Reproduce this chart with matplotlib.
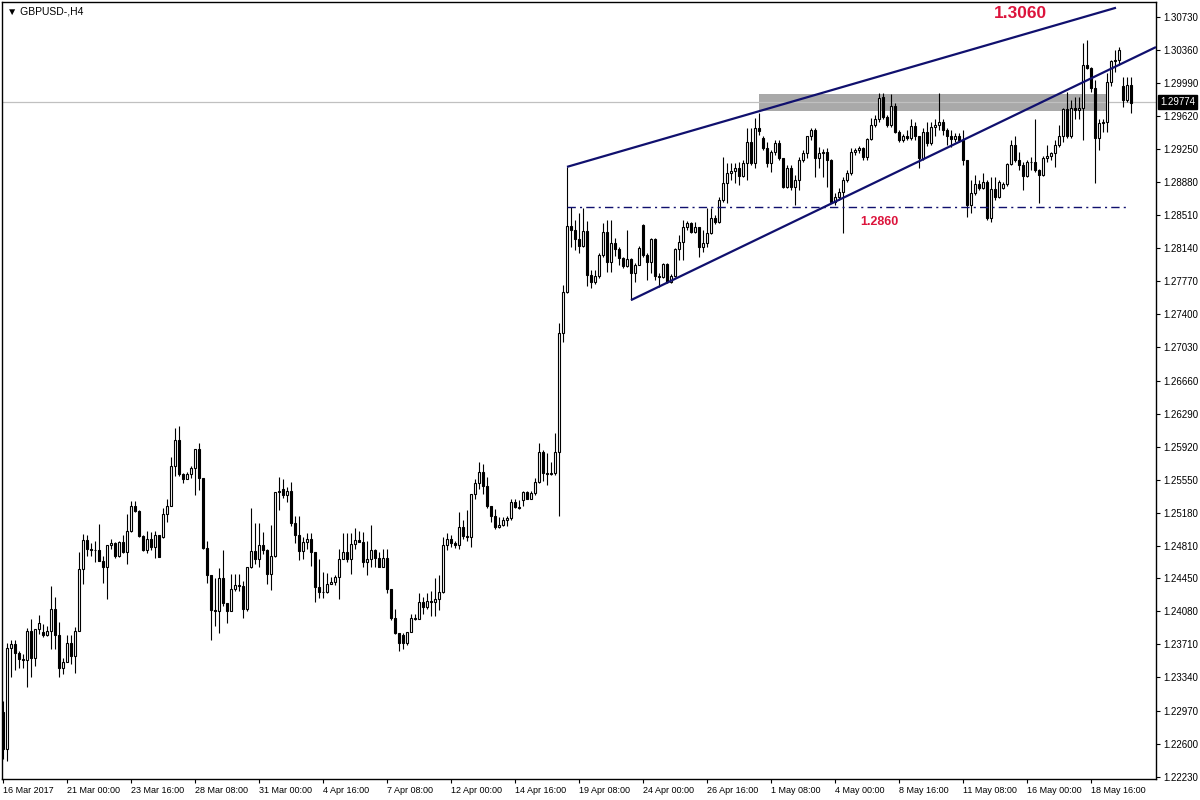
import numpy as np
import matplotlib.pyplot as plt
import matplotlib.transforms as mtransforms
from matplotlib.patches import Rectangle

plt.rcParams['font.family'] = ['Liberation Sans', 'DejaVu Sans']

# GBPUSD H4 candles, 16 Mar - 22 May 2017
opens = [
    1.2295, 1.2254, 1.2367, 1.2371, 1.2361, 1.2355, 1.2354, 1.2386, 1.2356, 1.2388,
    1.2385, 1.2381, 1.2386, 1.2410, 1.2382, 1.2345, 1.2351, 1.2373, 1.2358, 1.2386,
    1.2455, 1.2488, 1.2478, 1.2477, 1.2477, 1.2464, 1.2457, 1.2482, 1.2484, 1.2470,
    1.2486, 1.2474, 1.2498, 1.2526, 1.2520, 1.2492, 1.2477, 1.2489, 1.2480, 1.2493,
    1.2491, 1.2517, 1.2526, 1.2570, 1.2599, 1.2562, 1.2556, 1.2561, 1.2568, 1.2590,
    1.2557, 1.2479, 1.2449, 1.2409, 1.2408, 1.2445, 1.2417, 1.2408, 1.2433, 1.2437,
    1.2436, 1.2410, 1.2457, 1.2475, 1.2467, 1.2482, 1.2477, 1.2450, 1.2470, 1.2541,
    1.2545, 1.2538, 1.2542, 1.2507, 1.2493, 1.2475, 1.2485, 1.2489, 1.2474, 1.2435,
    1.2430, 1.2429, 1.2439, 1.2441, 1.2446, 1.2467, 1.2474, 1.2467, 1.2483, 1.2488,
    1.2486, 1.2463, 1.2467, 1.2476, 1.2468, 1.2458, 1.2468, 1.2433, 1.2400, 1.2384,
    1.2381, 1.2372, 1.2385, 1.2400, 1.2399, 1.2418, 1.2413, 1.2420, 1.2418, 1.2422,
    1.2429, 1.2482, 1.2489, 1.2484, 1.2482, 1.2502, 1.2492, 1.2491, 1.2539, 1.2551,
    1.2564, 1.2548, 1.2526, 1.2515, 1.2502, 1.2504, 1.2510, 1.2512, 1.2530, 1.2525,
    1.2532, 1.2541, 1.2534, 1.2540, 1.2553, 1.2586, 1.2563, 1.2562, 1.2563, 1.2586,
    1.2719, 1.2765, 1.2839, 1.2834, 1.2824, 1.2816, 1.2833, 1.2784, 1.2776, 1.2783,
    1.2806, 1.2832, 1.2799, 1.2820, 1.2813, 1.2803, 1.2794, 1.2802, 1.2786, 1.2795,
    1.2840, 1.2806, 1.2799, 1.2824, 1.2783, 1.2782, 1.2796, 1.2776, 1.2783, 1.2813,
    1.2821, 1.2838, 1.2842, 1.2832, 1.2838, 1.2815, 1.2820, 1.2831, 1.2848, 1.2843,
    1.2868, 1.2887, 1.2898, 1.2900, 1.2904, 1.2895, 1.2909, 1.2933, 1.2909, 1.2949,
    1.2937, 1.2926, 1.2909, 1.2922, 1.2932, 1.2915, 1.2883, 1.2904, 1.2883, 1.2890,
    1.2913, 1.2921, 1.2939, 1.2946, 1.2915, 1.2920, 1.2922, 1.2913, 1.2866, 1.2871,
    1.2877, 1.2890, 1.2898, 1.2922, 1.2924, 1.2926, 1.2916, 1.2936, 1.2952, 1.2958,
    1.2983, 1.2961, 1.2952, 1.2973, 1.2944, 1.2935, 1.2939, 1.2937, 1.2951, 1.2939,
    1.2915, 1.2944, 1.2932, 1.2950, 1.2952, 1.2955, 1.2946, 1.2939, 1.2936, 1.2939,
    1.2935, 1.2913, 1.2862, 1.2876, 1.2886, 1.2881, 1.2888, 1.2848, 1.2880, 1.2871,
    1.2881, 1.2886, 1.2908, 1.2930, 1.2913, 1.2907, 1.2895, 1.2911, 1.2910, 1.2902,
    1.2896, 1.2915, 1.2917, 1.2920, 1.2930, 1.2939, 1.2970, 1.2939, 1.2971, 1.2969,
    1.2971, 1.3019, 1.3016, 1.2993, 1.2937, 1.2954, 1.2955, 1.3000, 1.3023, 1.3025,
    1.2995, 1.2980, 1.2997,
]
highs = [
    1.2308, 1.2372, 1.2376, 1.2376, 1.2363, 1.2360, 1.2389, 1.2399, 1.2388, 1.2404,
    1.2394, 1.2392, 1.2436, 1.2424, 1.2396, 1.2356, 1.2381, 1.2381, 1.2390, 1.2474,
    1.2494, 1.2493, 1.2484, 1.2487, 1.2506, 1.2470, 1.2482, 1.2489, 1.2485, 1.2487,
    1.2493, 1.2517, 1.2531, 1.2531, 1.2521, 1.2493, 1.2498, 1.2497, 1.2498, 1.2493,
    1.2524, 1.2533, 1.2580, 1.2613, 1.2615, 1.2563, 1.2564, 1.2571, 1.2590, 1.2596,
    1.2557, 1.2487, 1.2449, 1.2445, 1.2456, 1.2476, 1.2417, 1.2450, 1.2450, 1.2450,
    1.2442, 1.2457, 1.2524, 1.2507, 1.2507, 1.2497, 1.2478, 1.2505, 1.2541, 1.2558,
    1.2556, 1.2547, 1.2553, 1.2515, 1.2515, 1.2491, 1.2495, 1.2495, 1.2474, 1.2467,
    1.2452, 1.2451, 1.2446, 1.2448, 1.2478, 1.2495, 1.2496, 1.2496, 1.2501, 1.2498,
    1.2497, 1.2487, 1.2505, 1.2478, 1.2474, 1.2478, 1.2478, 1.2433, 1.2411, 1.2384,
    1.2384, 1.2385, 1.2405, 1.2405, 1.2428, 1.2424, 1.2428, 1.2431, 1.2445, 1.2448,
    1.2491, 1.2495, 1.2493, 1.2487, 1.2519, 1.2510, 1.2521, 1.2539, 1.2556, 1.2575,
    1.2573, 1.2558, 1.2526, 1.2522, 1.2513, 1.2513, 1.2515, 1.2533, 1.2533, 1.2532,
    1.2543, 1.2542, 1.2542, 1.2557, 1.2596, 1.2588, 1.2585, 1.2575, 1.2607, 1.2730,
    1.2773, 1.2905, 1.2860, 1.2846, 1.2853, 1.2859, 1.2844, 1.2790, 1.2790, 1.2809,
    1.2842, 1.2846, 1.2846, 1.2825, 1.2815, 1.2804, 1.2834, 1.2803, 1.2797, 1.2816,
    1.2841, 1.2809, 1.2825, 1.2825, 1.2786, 1.2797, 1.2797, 1.2785, 1.2814, 1.2829,
    1.2846, 1.2844, 1.2843, 1.2843, 1.2838, 1.2834, 1.2859, 1.2859, 1.2851, 1.2871,
    1.2916, 1.2909, 1.2909, 1.2909, 1.2911, 1.2913, 1.2949, 1.2949, 1.2960, 1.2965,
    1.2940, 1.2933, 1.2924, 1.2935, 1.2935, 1.2915, 1.2907, 1.2907, 1.2896, 1.2916,
    1.2924, 1.2940, 1.2949, 1.2948, 1.2927, 1.2925, 1.2926, 1.2914, 1.2876, 1.2881,
    1.2894, 1.2902, 1.2926, 1.2926, 1.2928, 1.2927, 1.2937, 1.2960, 1.2963, 1.2988,
    1.2988, 1.2963, 1.2986, 1.2976, 1.2946, 1.2942, 1.2946, 1.2958, 1.2955, 1.2940,
    1.2949, 1.2955, 1.2955, 1.2958, 1.2988, 1.2958, 1.2949, 1.2946, 1.2943, 1.2943,
    1.2946, 1.2913, 1.2890, 1.2896, 1.2890, 1.2898, 1.2890, 1.2894, 1.2894, 1.2890,
    1.2888, 1.2909, 1.2935, 1.2939, 1.2922, 1.2911, 1.2913, 1.2916, 1.2959, 1.2903,
    1.2917, 1.2930, 1.2922, 1.2935, 1.2952, 1.2971, 1.2989, 1.2980, 1.2983, 1.2983,
    1.3044, 1.3047, 1.3017, 1.3002, 1.2958, 1.2958, 1.3010, 1.3025, 1.3036, 1.3039,
    1.3005, 1.3005, 1.3005,
]
lows = [
    1.2243, 1.2240, 1.2335, 1.2342, 1.2344, 1.2344, 1.2323, 1.2334, 1.2347, 1.2383,
    1.2379, 1.2380, 1.2366, 1.2366, 1.2334, 1.2338, 1.2355, 1.2349, 1.2339, 1.2386,
    1.2439, 1.2470, 1.2470, 1.2463, 1.2464, 1.2440, 1.2422, 1.2478, 1.2468, 1.2469,
    1.2473, 1.2461, 1.2497, 1.2519, 1.2491, 1.2475, 1.2473, 1.2476, 1.2468, 1.2469,
    1.2490, 1.2508, 1.2526, 1.2559, 1.2559, 1.2551, 1.2556, 1.2557, 1.2538, 1.2544,
    1.2478, 1.2440, 1.2376, 1.2392, 1.2384, 1.2414, 1.2395, 1.2408, 1.2431, 1.2431,
    1.2401, 1.2408, 1.2456, 1.2461, 1.2458, 1.2472, 1.2439, 1.2432, 1.2469, 1.2521,
    1.2535, 1.2530, 1.2503, 1.2484, 1.2465, 1.2467, 1.2478, 1.2459, 1.2418, 1.2423,
    1.2423, 1.2428, 1.2438, 1.2437, 1.2422, 1.2467, 1.2463, 1.2450, 1.2478, 1.2485,
    1.2457, 1.2449, 1.2457, 1.2458, 1.2457, 1.2457, 1.2428, 1.2398, 1.2383, 1.2364,
    1.2366, 1.2370, 1.2385, 1.2398, 1.2399, 1.2405, 1.2411, 1.2403, 1.2403, 1.2409,
    1.2428, 1.2476, 1.2480, 1.2479, 1.2478, 1.2489, 1.2487, 1.2480, 1.2533, 1.2545,
    1.2539, 1.2523, 1.2508, 1.2500, 1.2501, 1.2503, 1.2503, 1.2510, 1.2523, 1.2522,
    1.2526, 1.2533, 1.2533, 1.2538, 1.2551, 1.2554, 1.2549, 1.2560, 1.2560, 1.2515,
    1.2709, 1.2764, 1.2815, 1.2812, 1.2809, 1.2815, 1.2772, 1.2769, 1.2774, 1.2781,
    1.2804, 1.2787, 1.2787, 1.2805, 1.2795, 1.2792, 1.2793, 1.2756, 1.2776, 1.2795,
    1.2804, 1.2778, 1.2786, 1.2778, 1.2771, 1.2781, 1.2775, 1.2775, 1.2782, 1.2801,
    1.2801, 1.2834, 1.2831, 1.2831, 1.2804, 1.2810, 1.2815, 1.2830, 1.2841, 1.2842,
    1.2866, 1.2865, 1.2890, 1.2887, 1.2885, 1.2894, 1.2890, 1.2907, 1.2904, 1.2941,
    1.2924, 1.2905, 1.2899, 1.2918, 1.2913, 1.2881, 1.2881, 1.2879, 1.2862, 1.2879,
    1.2911, 1.2915, 1.2935, 1.2894, 1.2904, 1.2894, 1.2883, 1.2865, 1.2862, 1.2868,
    1.2831, 1.2888, 1.2896, 1.2918, 1.2921, 1.2913, 1.2913, 1.2935, 1.2950, 1.2955,
    1.2958, 1.2950, 1.2950, 1.2943, 1.2933, 1.2933, 1.2935, 1.2935, 1.2935, 1.2904,
    1.2913, 1.2928, 1.2930, 1.2939, 1.2946, 1.2941, 1.2930, 1.2927, 1.2933, 1.2933,
    1.2907, 1.2849, 1.2853, 1.2874, 1.2879, 1.2880, 1.2846, 1.2843, 1.2868, 1.2870,
    1.2880, 1.2884, 1.2907, 1.2911, 1.2902, 1.2879, 1.2894, 1.2902, 1.2899, 1.2865,
    1.2895, 1.2911, 1.2913, 1.2905, 1.2927, 1.2933, 1.2937, 1.2937, 1.2958, 1.2958,
    1.2935, 1.3014, 1.2989, 1.2887, 1.2924, 1.2944, 1.2944, 1.2995, 1.3011, 1.3019,
    1.2972, 1.2978, 1.2965,
]
closes = [
    1.2254, 1.2367, 1.2371, 1.2361, 1.2355, 1.2354, 1.2386, 1.2356, 1.2388, 1.2395,
    1.2381, 1.2386, 1.2410, 1.2382, 1.2345, 1.2351, 1.2373, 1.2358, 1.2386, 1.2455,
    1.2488, 1.2478, 1.2477, 1.2477, 1.2464, 1.2457, 1.2482, 1.2484, 1.2470, 1.2486,
    1.2474, 1.2498, 1.2526, 1.2520, 1.2492, 1.2477, 1.2489, 1.2480, 1.2493, 1.2469,
    1.2517, 1.2526, 1.2570, 1.2599, 1.2562, 1.2556, 1.2561, 1.2568, 1.2590, 1.2557,
    1.2479, 1.2449, 1.2409, 1.2408, 1.2445, 1.2417, 1.2408, 1.2433, 1.2437, 1.2436,
    1.2410, 1.2457, 1.2475, 1.2467, 1.2482, 1.2477, 1.2450, 1.2470, 1.2541, 1.2543,
    1.2538, 1.2542, 1.2507, 1.2493, 1.2475, 1.2485, 1.2489, 1.2474, 1.2435, 1.2430,
    1.2429, 1.2439, 1.2441, 1.2446, 1.2467, 1.2474, 1.2467, 1.2483, 1.2488, 1.2486,
    1.2463, 1.2467, 1.2476, 1.2468, 1.2458, 1.2468, 1.2433, 1.2400, 1.2384, 1.2373,
    1.2372, 1.2385, 1.2400, 1.2399, 1.2418, 1.2413, 1.2420, 1.2418, 1.2422, 1.2429,
    1.2482, 1.2489, 1.2484, 1.2482, 1.2502, 1.2492, 1.2491, 1.2539, 1.2551, 1.2564,
    1.2548, 1.2526, 1.2515, 1.2502, 1.2504, 1.2510, 1.2512, 1.2530, 1.2525, 1.2523,
    1.2541, 1.2534, 1.2540, 1.2553, 1.2586, 1.2563, 1.2562, 1.2563, 1.2586, 1.2719,
    1.2765, 1.2839, 1.2834, 1.2824, 1.2816, 1.2833, 1.2784, 1.2776, 1.2783, 1.2806,
    1.2832, 1.2799, 1.2820, 1.2813, 1.2803, 1.2794, 1.2802, 1.2786, 1.2795, 1.2814,
    1.2806, 1.2799, 1.2824, 1.2783, 1.2782, 1.2796, 1.2776, 1.2783, 1.2813, 1.2821,
    1.2838, 1.2842, 1.2832, 1.2838, 1.2815, 1.2820, 1.2831, 1.2848, 1.2843, 1.2868,
    1.2887, 1.2898, 1.2900, 1.2904, 1.2895, 1.2909, 1.2933, 1.2909, 1.2949, 1.2945,
    1.2926, 1.2909, 1.2922, 1.2932, 1.2915, 1.2883, 1.2904, 1.2883, 1.2890, 1.2913,
    1.2921, 1.2939, 1.2946, 1.2915, 1.2920, 1.2922, 1.2913, 1.2866, 1.2871, 1.2877,
    1.2890, 1.2898, 1.2922, 1.2924, 1.2926, 1.2916, 1.2936, 1.2952, 1.2958, 1.2982,
    1.2961, 1.2952, 1.2973, 1.2944, 1.2935, 1.2939, 1.2937, 1.2951, 1.2939, 1.2915,
    1.2944, 1.2932, 1.2950, 1.2952, 1.2955, 1.2946, 1.2939, 1.2936, 1.2939, 1.2935,
    1.2913, 1.2862, 1.2876, 1.2886, 1.2881, 1.2888, 1.2848, 1.2880, 1.2871, 1.2888,
    1.2886, 1.2908, 1.2930, 1.2913, 1.2907, 1.2895, 1.2911, 1.2910, 1.2902, 1.2896,
    1.2915, 1.2917, 1.2920, 1.2930, 1.2939, 1.2970, 1.2939, 1.2971, 1.2969, 1.2971,
    1.3019, 1.3016, 1.2993, 1.2937, 1.2954, 1.2955, 1.3000, 1.3023, 1.3025, 1.3036,
    1.2980, 1.2997, 1.2977,
]

# time axis labels (every 16 bars) and price scale
label_bars = [0, 16, 32, 48, 64, 80, 96, 112, 128, 144, 160, 176, 192, 208, 224, 240, 256, 272]
date_labels = ['16 Mar 2017', '21 Mar 00:00', '23 Mar 16:00', '28 Mar 08:00', '31 Mar 00:00',
               '4 Apr 16:00', '7 Apr 08:00', '12 Apr 00:00', '14 Apr 16:00', '19 Apr 08:00',
               '24 Apr 00:00', '26 Apr 16:00', '1 May 08:00', '4 May 00:00', '8 May 16:00',
               '11 May 08:00', '16 May 00:00', '18 May 16:00']
price_ticks = [1.22230, 1.22600, 1.22970, 1.23340, 1.23710, 1.24080, 1.24450, 1.24810,
               1.25180, 1.25550, 1.25920, 1.26290, 1.26660, 1.27030, 1.27400, 1.27770,
               1.28140, 1.28510, 1.28880, 1.29250, 1.29620, 1.29990, 1.30360, 1.30730]

# drawn objects: (bar, price) anchors
upper_line = ([141, 278.25], [1.2905, 1.3083])
lower_line = ([157, 288.25], [1.2756, 1.3039])
support_line = ([141, 281.25], [1.2860, 1.2860])
zone_bars = (189, 275.75)
zone_prices = (1.2968, 1.2987)
last_price = 1.29774

o = np.array(opens)
h = np.array(highs)
l = np.array(lows)
c = np.array(closes)
x = np.arange(len(c))

navy = '#10106e'

fig = plt.figure(figsize=(12, 8), dpi=100)
ax = fig.add_axes([2 / 1200, 21 / 800, 1154 / 1200, 777 / 800])

# resistance zone and current price line
ax.add_patch(Rectangle((zone_bars[0], zone_prices[0]), zone_bars[1] - zone_bars[0],
                       zone_prices[1] - zone_prices[0], facecolor='#a9a9a9',
                       edgecolor='none', zorder=1))
ax.axhline(last_price, color='#c0c0c0', lw=0.9, zorder=1.5)

# candles
lo = np.minimum(l, np.minimum(o, c))
hi = np.maximum(h, np.maximum(o, c))
ax.vlines(x, lo, hi, color='black', lw=0.8, zorder=2)
body_low = np.minimum(o, c)
body_h = np.maximum(np.abs(c - o), 1e-6)
faces = ['white' if cc >= oo else 'black' for oo, cc in zip(o, c)]
ax.bar(x, body_h, bottom=body_low, width=0.55, color=faces, edgecolor='black',
       linewidth=0.8, zorder=3)

# trend lines
ax.plot(upper_line[0], upper_line[1], color=navy, lw=1.6, zorder=4, solid_capstyle='butt')
ax.plot(lower_line[0], lower_line[1], color=navy, lw=1.6, zorder=4, solid_capstyle='butt')
ax.plot(support_line[0], support_line[1], color=navy, lw=1.0, dashes=(6, 3, 1.5, 3), zorder=4)

ax.text(254.25, 1.3076, '1.3060', color='#dc143c', fontsize=12.5, fontweight='bold',
        ha='center', va='center', zorder=5)
ax.text(219, 1.2843, '1.2860', color='#dc143c', fontsize=9, fontweight='bold',
        ha='center', va='center', zorder=5)

ax.text(0.004, 0.988, '\u25bc GBPUSD-,H4', transform=ax.transAxes, fontsize=7.5,
        ha='left', va='center', color='black')

ax.set_xlim(-0.25, 288.25)
ax.set_ylim(1.22204, 1.30894)

ax.yaxis.tick_right()
ax.set_yticks(price_ticks)
ax.set_yticklabels(['%.5f' % p for p in price_ticks])
ax.set_xticks(label_bars)
ax.set_xticklabels(date_labels, ha='left')
ax.tick_params(axis='both', direction='out', length=3, width=0.8, pad=2,
               labelsize=7, colors='black')
ax.tick_params(axis='x', labelsize=6.5)

for s in ax.spines.values():
    s.set_color('black')
    s.set_linewidth(1)

# price tag on the scale
trans = mtransforms.blended_transform_factory(ax.transAxes, ax.transData)
ax.annotate('1.29774', xy=(1.0, last_price), xycoords=trans, xytext=(3, 0),
            textcoords='offset points', ha='left', va='center', color='white', fontsize=7,
            bbox=dict(boxstyle='square,pad=0.2', fc='black', ec='black'),
            annotation_clip=False, zorder=10)

fig.savefig('out.png', dpi=100)
